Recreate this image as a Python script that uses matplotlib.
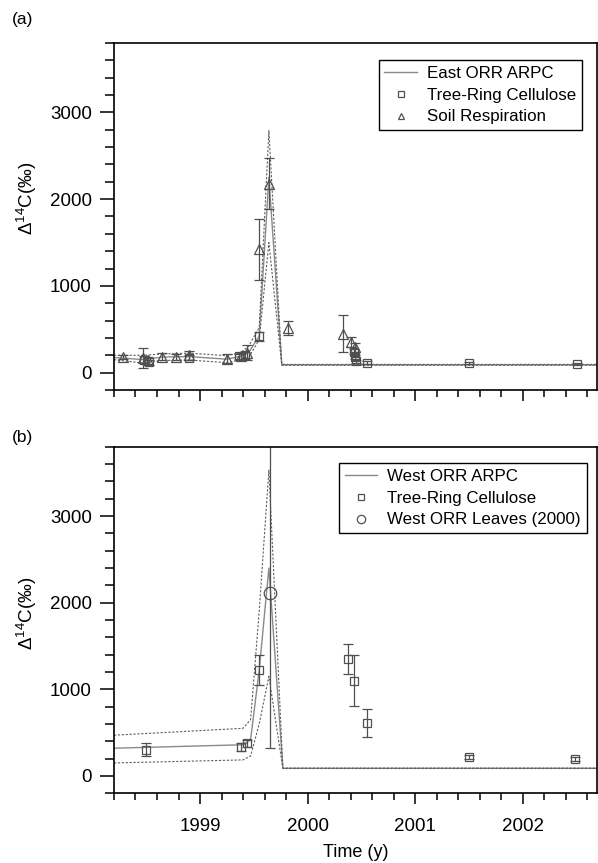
import numpy as np
import matplotlib
matplotlib.use('Agg')
import matplotlib.pyplot as plt
from matplotlib.ticker import MultipleLocator
from matplotlib.lines import Line2D

plt.rcParams['font.family'] = ['Liberation Sans', 'DejaVu Sans']
plt.rcParams['mathtext.fontset'] = 'custom'
plt.rcParams['mathtext.rm'] = 'Liberation Sans'

# ---- panel (a): East ORR ----
east_model_x = [1998.2, 1998.47, 1998.65, 1998.9, 1999.25, 1999.38, 1999.45, 1999.55, 1999.64, 1999.76, 2002.7]
east_model = [175, 150, 180, 185, 155, 190, 230, 420, 2250, 90, 90]
east_model_hi = [200, 200, 215, 225, 195, 235, 300, 520, 2790, 95, 95]
east_model_lo = [150, 110, 140, 145, 115, 150, 170, 380, 1500, 85, 85]

east_tree_x = [1998.48, 1998.53, 1998.9, 1999.36, 1999.42, 1999.55, 2000.43, 2000.44, 2000.45, 2000.55, 2001.5, 2002.5]
east_tree_y = [150, 120, 170, 190, 200, 420, 240, 180, 130, 115, 110, 100]
east_tree_err = [40, 30, 30, 30, 40, 50, 30, 20, 20, 15, 15, 15]

east_soil_x = [1998.28, 1998.47, 1998.52, 1998.65, 1998.78, 1998.9, 1999.25, 1999.38, 1999.44,
               1999.55, 1999.64, 1999.82, 2000.33, 2000.40, 2000.44]
east_soil_y = [180, 170, 140, 185, 180, 200, 160, 190, 230, 1420, 2180, 510, 450, 350, 290]
east_soil_err = [20, 115, 40, 40, 30, 50, 50, 40, 90, 350, 290, 80, 210, 60, 50]

# ---- panel (b): West ORR ----
west_model_x = [1998.2, 1999.4, 1999.47, 1999.55, 1999.64, 1999.77, 2002.7]
west_model = [320, 360, 420, 1220, 2400, 88, 88]
west_model_hi = [470, 550, 650, 1900, 3530, 90, 90]
west_model_lo = [150, 185, 230, 600, 1150, 86, 86]

west_tree_x = [1998.5, 1999.38, 1999.44, 1999.55, 2000.38, 2000.435, 2000.55, 2001.5, 2002.49]
west_tree_y = [305, 335, 375, 1225, 1350, 1100, 610, 215, 195]
west_tree_err = [75, 45, 45, 170, 170, 295, 160, 25, 20]

leaves_x = [1999.65]
leaves_y = [2110]
leaves_err = [1790]

fig = plt.figure(figsize=(5.98, 8.63), dpi=100)
ax1 = fig.add_axes([0.1906, 0.5481, 0.8077, 0.4021])
ax2 = fig.add_axes([0.1906, 0.0808, 0.8077, 0.4016])

line_c = '#8a8a8a'
dash_c = '#5e5e5e'
mark_c = '#505050'

def style(ax, labels):
    ax.set_xlim(1998.2, 2002.69)
    ax.set_ylim(-200, 3800)
    ax.xaxis.set_major_locator(MultipleLocator(1))
    ax.xaxis.set_minor_locator(MultipleLocator(0.2))
    ax.yaxis.set_major_locator(MultipleLocator(1000))
    ax.yaxis.set_minor_locator(MultipleLocator(200))
    ax.tick_params(axis='x', which='major', length=8, width=1.1, direction='out', labelsize=13.5, pad=10)
    ax.tick_params(axis='x', which='minor', length=5, width=1.1, direction='out')
    ax.tick_params(axis='y', which='major', length=10, width=1.1, direction='out', labelsize=13.5, pad=6)
    ax.tick_params(axis='y', which='minor', length=6.5, width=1.1, direction='out')
    ax.tick_params(top=False, right=False, which='both')
    ax.xaxis.set_major_formatter(plt.FuncFormatter(lambda v, p: '%d' % round(v)))
    if not labels:
        ax.tick_params(axis='x', labelbottom=False)
    for s in ax.spines.values():
        s.set_linewidth(1.2)
    ax.set_ylabel('Δ$^{\\mathrm{14}}$C(‰)', fontsize=13.5)

def add_legend(ax, names, markers, anchor):
    handles = [Line2D([], [], color=line_c, lw=1.0)]
    for m, ms in markers:
        handles.append(Line2D([], [], ls='none', marker=m, ms=ms, mfc='none',
                              mec=mark_c, mew=0.9))
    leg = ax.legend(handles, names, loc='upper right', bbox_to_anchor=anchor, fontsize=12.2,
                    frameon=True, fancybox=False, edgecolor='black', framealpha=1,
                    borderaxespad=0, handlelength=1.9, handletextpad=0.6,
                    labelspacing=0.4, borderpad=0.35)
    leg.get_frame().set_linewidth(1.0)

# panel (a)
ax1.plot(east_model_x, east_model, '-', color=line_c, lw=1.0)
ax1.plot(east_model_x, east_model_hi, '--', color=dash_c, lw=0.8, dashes=(2, 1.5))
ax1.plot(east_model_x, east_model_lo, '--', color=dash_c, lw=0.8, dashes=(2, 1.5))
ax1.errorbar(east_tree_x, east_tree_y, yerr=east_tree_err, fmt='s', mfc='none', mec=mark_c,
             ms=6, mew=0.9, ecolor=mark_c, elinewidth=0.9, capsize=3.5, capthick=0.9)
ax1.errorbar(east_soil_x, east_soil_y, yerr=east_soil_err, fmt='^', mfc='none', mec=mark_c,
             ms=7, mew=0.9, ecolor=mark_c, elinewidth=0.9, capsize=3.5, capthick=0.9)
style(ax1, False)
ax1.yaxis.set_label_coords(-0.155, 0.553)
add_legend(ax1, ['East ORR ARPC', 'Tree-Ring Cellulose', 'Soil Respiration'],
           [('s', 4.5), ('^', 5)], (0.969, 0.951))
fig.text(0.02, 0.977, '(a)', fontsize=12.5, va='center')

# panel (b)
ax2.plot(west_model_x, west_model, '-', color=line_c, lw=1.0)
ax2.plot(west_model_x, west_model_hi, '--', color=dash_c, lw=0.8, dashes=(2, 1.5))
ax2.plot(west_model_x, west_model_lo, '--', color=dash_c, lw=0.8, dashes=(2, 1.5))
ax2.errorbar(west_tree_x, west_tree_y, yerr=west_tree_err, fmt='s', mfc='none', mec=mark_c,
             ms=6, mew=0.9, ecolor=mark_c, elinewidth=0.9, capsize=3.5, capthick=0.9)
ax2.errorbar(leaves_x, leaves_y, yerr=leaves_err, fmt='o', mfc='none', mec=mark_c,
             ms=9, mew=0.9, ecolor=mark_c, elinewidth=0.9, capsize=3.5, capthick=0.9)
style(ax2, True)
ax2.yaxis.set_label_coords(-0.155, 0.52)
ax2.set_xlabel('Time (y)', fontsize=13, labelpad=6)
add_legend(ax2, ['West ORR ARPC', 'Tree-Ring Cellulose', 'West ORR Leaves (2000)'],
           [('s', 4.5), ('o', 6)], (0.979, 0.953))
fig.text(0.02, 0.493, '(b)', fontsize=12.5, va='center')

fig.savefig('out.png', dpi=100)
